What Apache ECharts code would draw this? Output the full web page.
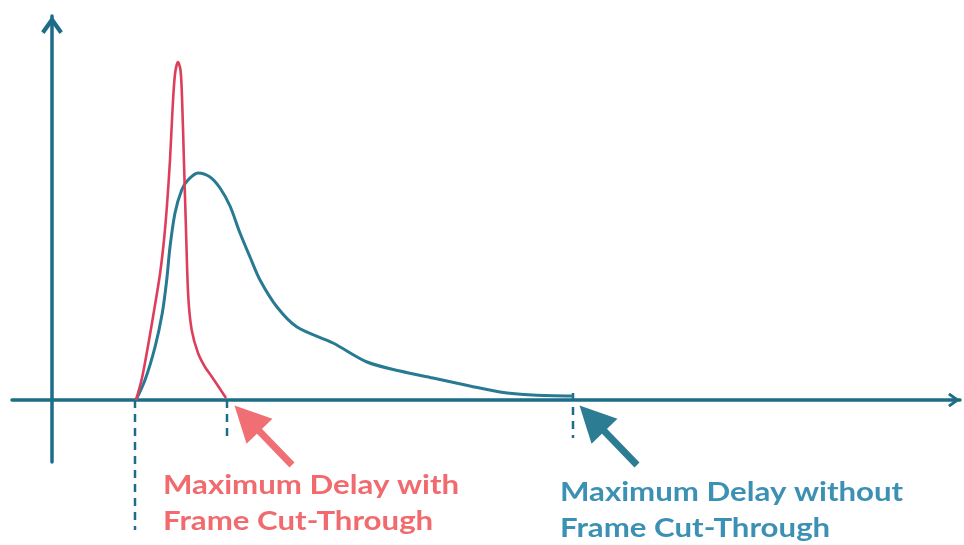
<!DOCTYPE html>
<html>
<head>
<meta charset="utf-8">
<script src="https://cdn.jsdelivr.net/npm/echarts@6/dist/echarts.min.js"></script>
<style>html,body{margin:0;padding:0;background:#fff;}#c{width:964px;height:545px;}</style>
</head>
<body>
<div id="c"></div>
<script>
// Delay distribution with frame cut-through (sharp, early)
const withCutThrough = [
  [8.4,0],[9.0,2.2],[9.6,5.4],[10.2,8.9],[10.8,12.6],[11.2,16.0],[11.5,19.5],
  [11.8,24.0],[12.05,29.0],[12.3,32.6],[12.6,33.8],[12.85,33.0],[13.0,30.3],
  [13.2,23.7],[13.4,17.0],[13.63,10.3],[13.97,7.0],[14.6,4.7],[15.3,3.3],
  [16.0,2.3],[17.4,0.2]
];
// Delay distribution without frame cut-through (broad, long tail)
const withoutCutThrough = [
  [8.4,0],[9.3,2.0],[10.3,5.3],[11.03,8.7],[11.47,12.0],[11.8,15.3],[12.3,18.7],
  [12.97,21.0],[13.6,22.0],[14.6,22.7],[15.8,22.3],[16.8,21.2],[17.8,19.4],
  [18.8,16.7],[19.8,14.3],[20.8,12.0],[22.5,9.3],[24.5,7.3],[28.1,5.7],[31.5,3.8],
  [34.8,2.9],[38.1,2.2],[41.8,1.4],[44.8,0.8],[48.1,0.5],[52.1,0.4]
];
// Markers (delay values) for dashed guide lines: [x, yTop, yBottom]
const minDelay = [8.3, 0, -13.0];
const maxDelayWith = [17.5, 0, -3.8];
const maxDelayWithout = [52.1, 0.7, -3.8];
// Annotation arrows: [fromX, fromY, toX, toY]
const arrowWith = [24.0, -6.5, 19.5, -1.84];
const arrowWithout = [58.5, -6.5, 54.0, -1.84];
const labelWith = 'Maximum Delay with\nFrame Cut-Through';
const labelWithout = 'Maximum Delay without\nFrame Cut-Through';

const AXIS = '#1d6c88';
const BLUE = '#277a92';
const RED = '#dd3e5c';
const chevron = 'path://M0,8.5 L6,0 L12,8.5 L10.2,10 L6,4.2 L1.8,10 Z';

function dashed(m){
  return {
    type:'line', data:[[m[0],m[1]],[m[0],m[2]]], symbol:'none', clip:false, silent:true,
    lineStyle:{color:AXIS,width:2.5,type:[8,6]}, z:1
  };
}
function arrow(a,color){
  return {
    type:'lines', coordinateSystem:'cartesian2d', clip:false, silent:true,
    symbol:['none','triangle'], symbolSize:[0,36],
    lineStyle:{color:color,width:7,opacity:1,curveness:0},
    data:[{coords:[[a[0],a[1]],[a[2],a[3]]]}], z:5
  };
}

const chart = echarts.init(document.getElementById('c'));
chart.setOption({
  animation:false,
  backgroundColor:'#fff',
  grid:{left:12,right:4,top:16,bottom:83},
  xAxis:{
    type:'value', min:-4, max:90.8,
    axisLine:{show:true,onZero:true,symbol:['none',chevron],symbolSize:[17,12],symbolOffset:[0,-6],
      lineStyle:{color:AXIS,width:3.5}},
    axisTick:{show:false}, axisLabel:{show:false}, splitLine:{show:false}
  },
  yAxis:{
    type:'value', min:-6.2, max:38.4,
    axisLine:{show:true,onZero:true,symbol:['none',chevron],symbolSize:[24,18],symbolOffset:[0,-9],
      lineStyle:{color:AXIS,width:3.5}},
    axisTick:{show:false}, axisLabel:{show:false}, splitLine:{show:false}
  },
  series:[
    dashed(minDelay), dashed(maxDelayWith), dashed(maxDelayWithout),
    {type:'line', name:'without', data:withoutCutThrough, smooth:0.3, symbol:'none',
      lineStyle:{color:BLUE,width:3}, z:3},
    {type:'line', name:'with', data:withCutThrough, smooth:0.3, symbol:'none',
      lineStyle:{color:RED,width:2.6}, z:4},
    arrow(arrowWith,'#ef6f75'),
    arrow(arrowWithout,'#2c7d93')
  ],
  graphic:[
    {type:'text', x:163, y:468, scaleX:1.2, style:{text:labelWith, fill:'#f06a6e',
      font:'bold 26px Lato', lineHeight:36, verticalAlign:'top'}},
    {type:'text', x:560, y:475, scaleX:1.2, style:{text:labelWithout, fill:'#3b90b3',
      font:'bold 26px Lato', lineHeight:36, verticalAlign:'top'}}
  ]
});
</script>
</body>
</html>
